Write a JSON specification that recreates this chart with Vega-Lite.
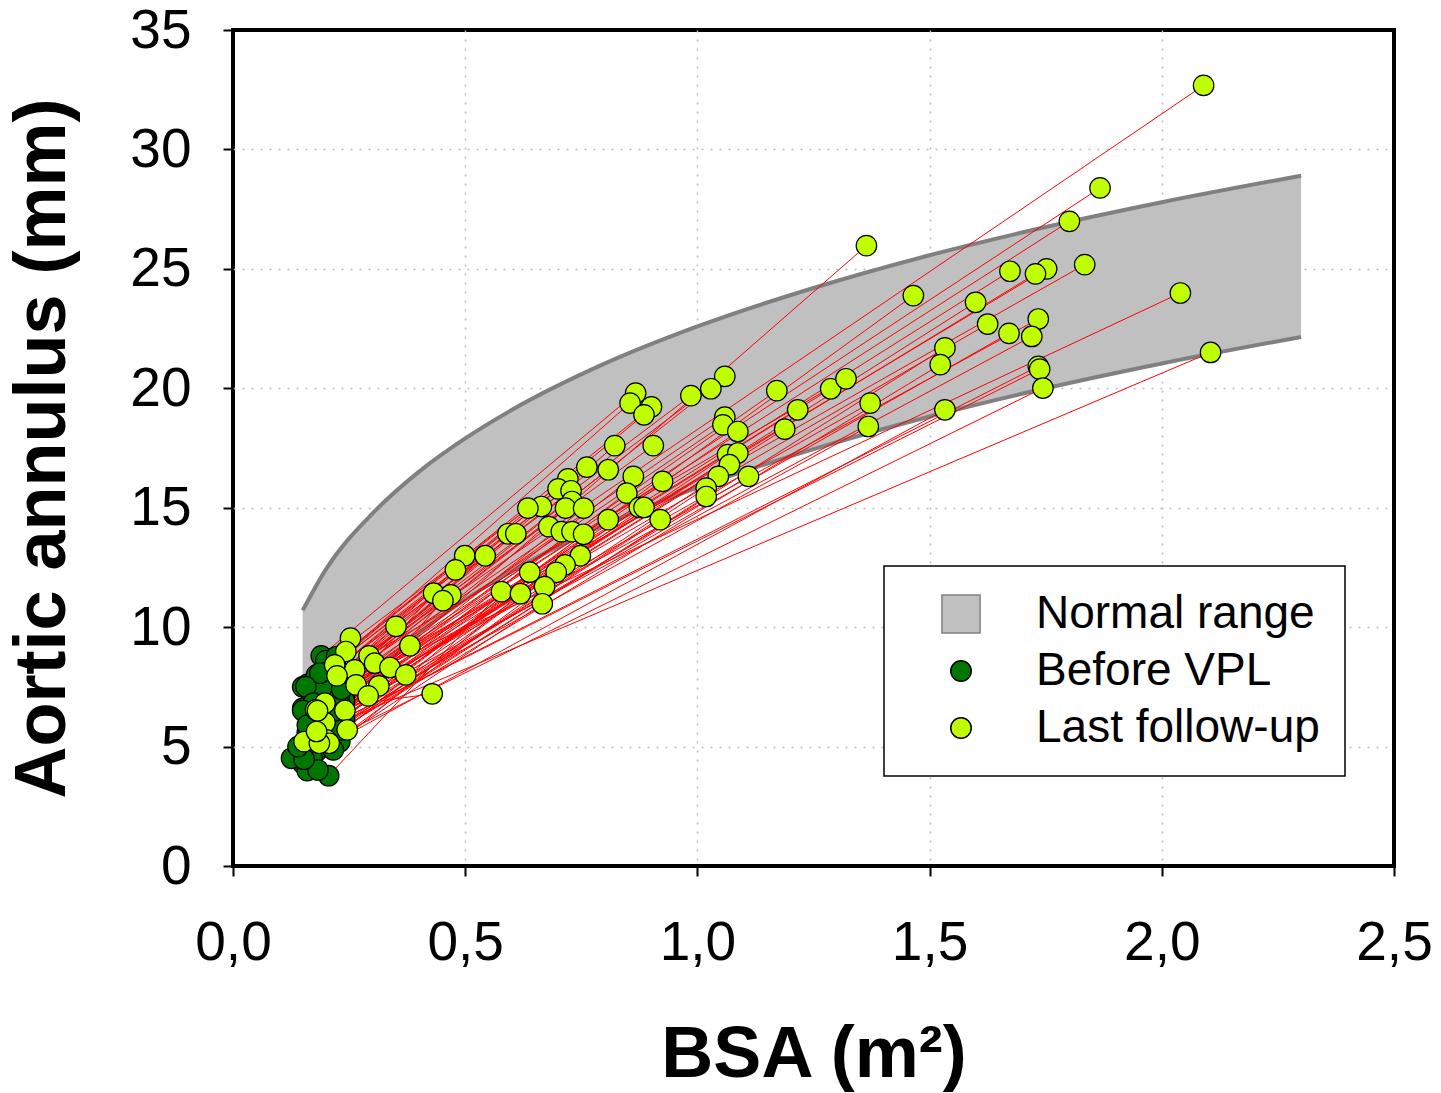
{
  "$schema": "https://vega.github.io/schema/vega-lite/v6.json",
  "width": 1161,
  "height": 836,
  "autosize": {"type": "none"},
  "padding": {"left": 233, "top": 30, "right": 47, "bottom": 227},
  "background": "white",
  "config": {
    "view": {"stroke": "black", "strokeWidth": 4},
    "font": "Liberation Sans",
    "axis": {
      "grid": true,
      "gridColor": "#BBBBBB",
      "gridDash": [2, 7],
      "gridWidth": 1.5,
      "domain": false,
      "ticks": true,
      "tickSize": 10,
      "tickColor": "black",
      "tickWidth": 2,
      "labelFont": "Liberation Sans",
      "labelFontSize": 55,
      "labelColor": "black",
      "labelFlush": false,
      "labelOverlap": false,
      "titleFont": "Liberation Sans",
      "titleFontSize": 72,
      "titleFontWeight": "bold",
      "titleColor": "black"
    },
    "legend": {
      "orient": "none",
      "legendX": 651,
      "legendY": 536,
      "padding": 25,
      "strokeColor": "black",
      "strokeWidth": 1.5,
      "fillColor": "white",
      "labelFont": "Liberation Sans",
      "labelFontSize": 46,
      "labelColor": "black",
      "labelLimit": 400,
      "symbolOffset": 29,
      "labelOffset": 52,
      "rowPadding": 11,
      "symbolSize": 420,
      "symbolStrokeWidth": 1.5
    }
  },
  "datasets": {
    "band": [
      {"bsa": 0.15, "upper": 10.7, "lower": 3.95},
      {"bsa": 0.2, "upper": 12.42, "lower": 5.67},
      {"bsa": 0.3, "upper": 14.75, "lower": 8.0},
      {"bsa": 0.4, "upper": 16.5, "lower": 9.75},
      {"bsa": 0.5, "upper": 17.9, "lower": 11.15},
      {"bsa": 0.6, "upper": 19.09, "lower": 12.34},
      {"bsa": 0.8, "upper": 21.03, "lower": 14.28},
      {"bsa": 1.0, "upper": 22.59, "lower": 15.84},
      {"bsa": 1.25, "upper": 24.2, "lower": 17.45},
      {"bsa": 1.5, "upper": 25.57, "lower": 18.82},
      {"bsa": 1.75, "upper": 26.75, "lower": 20.0},
      {"bsa": 2.0, "upper": 27.79, "lower": 21.04},
      {"bsa": 2.3, "upper": 28.9, "lower": 22.15}
    ],
    "patients": [
      {"id": 1, "b0": 0.20, "a0": 7.7, "b1": 2.090, "a1": 32.68},
      {"id": 2, "b0": 0.21, "a0": 7.2, "b1": 1.867, "a1": 28.39},
      {"id": 3, "b0": 0.19, "a0": 6.9, "b1": 1.801, "a1": 26.99},
      {"id": 4, "b0": 0.20, "a0": 6.2, "b1": 1.364, "a1": 25.97},
      {"id": 5, "b0": 0.22, "a0": 7.4, "b1": 1.834, "a1": 25.18},
      {"id": 6, "b0": 0.18, "a0": 6.6, "b1": 1.673, "a1": 24.90},
      {"id": 7, "b0": 0.21, "a0": 7.0, "b1": 1.752, "a1": 25.00},
      {"id": 8, "b0": 0.17, "a0": 6.3, "b1": 1.728, "a1": 24.79},
      {"id": 9, "b0": 0.19, "a0": 5.9, "b1": 1.465, "a1": 23.88},
      {"id": 10, "b0": 0.23, "a0": 7.5, "b1": 2.040, "a1": 23.99},
      {"id": 11, "b0": 0.18, "a0": 6.1, "b1": 1.599, "a1": 23.60},
      {"id": 12, "b0": 0.20, "a0": 6.7, "b1": 1.625, "a1": 22.69},
      {"id": 13, "b0": 0.22, "a0": 6.8, "b1": 1.734, "a1": 22.90},
      {"id": 14, "b0": 0.16, "a0": 5.6, "b1": 1.671, "a1": 22.30},
      {"id": 15, "b0": 0.21, "a0": 6.4, "b1": 1.720, "a1": 22.17},
      {"id": 16, "b0": 0.19, "a0": 5.3, "b1": 1.533, "a1": 21.69},
      {"id": 17, "b0": 0.24, "a0": 6.1, "b1": 2.105, "a1": 21.50},
      {"id": 18, "b0": 0.17, "a0": 5.0, "b1": 1.523, "a1": 20.99},
      {"id": 19, "b0": 0.22, "a0": 6.0, "b1": 1.734, "a1": 20.92},
      {"id": 20, "b0": 0.20, "a0": 5.8, "b1": 1.737, "a1": 20.80},
      {"id": 21, "b0": 0.23, "a0": 5.5, "b1": 1.744, "a1": 20.01},
      {"id": 22, "b0": 0.18, "a0": 4.8, "b1": 1.533, "a1": 19.10},
      {"id": 23, "b0": 0.19, "a0": 7.8, "b1": 1.059, "a1": 20.50},
      {"id": 24, "b0": 0.20, "a0": 7.3, "b1": 1.029, "a1": 19.98},
      {"id": 25, "b0": 0.16, "a0": 7.6, "b1": 0.986, "a1": 19.69},
      {"id": 26, "b0": 0.21, "a0": 6.9, "b1": 1.171, "a1": 19.90},
      {"id": 27, "b0": 0.22, "a0": 7.1, "b1": 1.287, "a1": 19.98},
      {"id": 28, "b0": 0.23, "a0": 8.1, "b1": 1.320, "a1": 20.40},
      {"id": 29, "b0": 0.18, "a0": 6.5, "b1": 1.216, "a1": 19.10},
      {"id": 30, "b0": 0.24, "a0": 7.0, "b1": 1.372, "a1": 19.38},
      {"id": 31, "b0": 0.20, "a0": 5.9, "b1": 1.368, "a1": 18.40},
      {"id": 32, "b0": 0.19, "a0": 6.2, "b1": 1.188, "a1": 18.29},
      {"id": 33, "b0": 0.21, "a0": 7.5, "b1": 1.059, "a1": 18.79},
      {"id": 34, "b0": 0.17, "a0": 6.8, "b1": 1.055, "a1": 18.47},
      {"id": 35, "b0": 0.22, "a0": 6.6, "b1": 1.087, "a1": 18.19},
      {"id": 36, "b0": 0.19, "a0": 8.8, "b1": 0.867, "a1": 19.80},
      {"id": 37, "b0": 0.22, "a0": 8.5, "b1": 0.855, "a1": 19.38},
      {"id": 38, "b0": 0.18, "a0": 8.0, "b1": 0.901, "a1": 19.22},
      {"id": 39, "b0": 0.20, "a0": 7.9, "b1": 0.885, "a1": 18.89},
      {"id": 40, "b0": 0.23, "a0": 7.7, "b1": 0.822, "a1": 17.60},
      {"id": 41, "b0": 0.17, "a0": 7.2, "b1": 0.905, "a1": 17.60},
      {"id": 42, "b0": 0.21, "a0": 8.3, "b1": 0.762, "a1": 16.70},
      {"id": 43, "b0": 0.19, "a0": 7.4, "b1": 0.808, "a1": 16.59},
      {"id": 44, "b0": 0.23, "a0": 6.4, "b1": 1.065, "a1": 17.22},
      {"id": 45, "b0": 0.18, "a0": 6.0, "b1": 1.087, "a1": 17.29},
      {"id": 46, "b0": 0.20, "a0": 6.3, "b1": 1.069, "a1": 16.80},
      {"id": 47, "b0": 0.22, "a0": 5.7, "b1": 1.045, "a1": 16.31},
      {"id": 48, "b0": 0.16, "a0": 5.4, "b1": 1.110, "a1": 16.31},
      {"id": 49, "b0": 0.21, "a0": 5.6, "b1": 1.019, "a1": 15.82},
      {"id": 50, "b0": 0.19, "a0": 5.2, "b1": 1.019, "a1": 15.47},
      {"id": 51, "b0": 0.24, "a0": 6.9, "b1": 0.862, "a1": 16.31},
      {"id": 52, "b0": 0.18, "a0": 6.6, "b1": 0.925, "a1": 16.10},
      {"id": 53, "b0": 0.20, "a0": 8.6, "b1": 0.721, "a1": 16.21},
      {"id": 54, "b0": 0.22, "a0": 8.2, "b1": 0.700, "a1": 15.79},
      {"id": 55, "b0": 0.17, "a0": 7.5, "b1": 0.728, "a1": 15.71},
      {"id": 56, "b0": 0.21, "a0": 7.3, "b1": 0.730, "a1": 15.26},
      {"id": 57, "b0": 0.19, "a0": 7.0, "b1": 0.716, "a1": 14.98},
      {"id": 58, "b0": 0.23, "a0": 6.8, "b1": 0.755, "a1": 14.98},
      {"id": 59, "b0": 0.20, "a0": 7.6, "b1": 0.664, "a1": 15.05},
      {"id": 60, "b0": 0.15, "a0": 7.5, "b1": 0.635, "a1": 14.98},
      {"id": 61, "b0": 0.22, "a0": 6.5, "b1": 0.848, "a1": 15.61},
      {"id": 62, "b0": 0.18, "a0": 5.8, "b1": 0.875, "a1": 15.01},
      {"id": 63, "b0": 0.21, "a0": 6.1, "b1": 0.885, "a1": 15.01},
      {"id": 64, "b0": 0.17, "a0": 5.1, "b1": 0.920, "a1": 14.50},
      {"id": 65, "b0": 0.24, "a0": 6.2, "b1": 0.808, "a1": 14.50},
      {"id": 66, "b0": 0.19, "a0": 6.7, "b1": 0.680, "a1": 14.21},
      {"id": 67, "b0": 0.16, "a0": 6.4, "b1": 0.707, "a1": 14.00},
      {"id": 68, "b0": 0.20, "a0": 6.0, "b1": 0.730, "a1": 14.00},
      {"id": 69, "b0": 0.22, "a0": 5.9, "b1": 0.755, "a1": 13.89},
      {"id": 70, "b0": 0.18, "a0": 7.1, "b1": 0.592, "a1": 13.91},
      {"id": 71, "b0": 0.23, "a0": 7.8, "b1": 0.609, "a1": 13.91},
      {"id": 72, "b0": 0.19, "a0": 8.0, "b1": 0.499, "a1": 12.99},
      {"id": 73, "b0": 0.21, "a0": 7.4, "b1": 0.543, "a1": 12.99},
      {"id": 74, "b0": 0.17, "a0": 7.0, "b1": 0.479, "a1": 12.40},
      {"id": 75, "b0": 0.20, "a0": 6.3, "b1": 0.432, "a1": 11.42},
      {"id": 76, "b0": 0.15, "a0": 6.6, "b1": 0.469, "a1": 11.35},
      {"id": 77, "b0": 0.22, "a0": 6.0, "b1": 0.452, "a1": 11.11},
      {"id": 78, "b0": 0.18, "a0": 5.5, "b1": 0.748, "a1": 12.99},
      {"id": 79, "b0": 0.21, "a0": 5.3, "b1": 0.715, "a1": 12.61},
      {"id": 80, "b0": 0.16, "a0": 4.9, "b1": 0.696, "a1": 12.29},
      {"id": 81, "b0": 0.20, "a0": 5.0, "b1": 0.639, "a1": 12.30},
      {"id": 82, "b0": 0.206, "a0": 3.78, "b1": 0.578, "a1": 11.49},
      {"id": 83, "b0": 0.23, "a0": 5.2, "b1": 0.619, "a1": 11.40},
      {"id": 84, "b0": 0.17, "a0": 4.5, "b1": 0.671, "a1": 11.70},
      {"id": 85, "b0": 0.15, "a0": 4.3, "b1": 0.666, "a1": 10.98},
      {"id": 86, "b0": 0.21, "a0": 7.6, "b1": 0.351, "a1": 10.03},
      {"id": 87, "b0": 0.19, "a0": 6.8, "b1": 0.381, "a1": 9.22},
      {"id": 88, "b0": 0.20, "a0": 6.6, "b1": 0.429, "a1": 7.21},
      {"id": 89, "b0": 0.223, "a0": 8.77, "b1": 0.253, "a1": 9.54},
      {"id": 90, "b0": 0.20, "a0": 8.1, "b1": 0.243, "a1": 8.98},
      {"id": 91, "b0": 0.23, "a0": 7.2, "b1": 0.293, "a1": 8.80},
      {"id": 92, "b0": 0.19, "a0": 6.5, "b1": 0.305, "a1": 8.49},
      {"id": 93, "b0": 0.21, "a0": 6.2, "b1": 0.338, "a1": 8.31},
      {"id": 94, "b0": 0.18, "a0": 5.7, "b1": 0.372, "a1": 8.00},
      {"id": 95, "b0": 0.191, "a0": 7.44, "b1": 0.262, "a1": 8.21},
      {"id": 96, "b0": 0.187, "a0": 8.07, "b1": 0.219, "a1": 8.42},
      {"id": 97, "b0": 0.157, "a0": 7.51, "b1": 0.224, "a1": 7.96},
      {"id": 98, "b0": 0.234, "a0": 7.40, "b1": 0.265, "a1": 7.58},
      {"id": 99, "b0": 0.22, "a0": 6.3, "b1": 0.314, "a1": 7.54},
      {"id": 100, "b0": 0.212, "a0": 5.49, "b1": 0.291, "a1": 7.12},
      {"id": 101, "b0": 0.173, "a0": 6.82, "b1": 0.198, "a1": 6.82},
      {"id": 102, "b0": 0.234, "a0": 5.70, "b1": 0.241, "a1": 6.51},
      {"id": 103, "b0": 0.150, "a0": 6.51, "b1": 0.178, "a1": 6.54},
      {"id": 104, "b0": 0.17, "a0": 5.2, "b1": 0.198, "a1": 6.00},
      {"id": 105, "b0": 0.216, "a0": 4.86, "b1": 0.246, "a1": 5.70},
      {"id": 106, "b0": 0.160, "a0": 3.99, "b1": 0.201, "a1": 5.28},
      {"id": 107, "b0": 0.183, "a0": 4.02, "b1": 0.207, "a1": 5.14},
      {"id": 108, "b0": 0.126, "a0": 4.51, "b1": 0.153, "a1": 5.21},
      {"id": 109, "b0": 0.153, "a0": 4.47, "b1": 0.186, "a1": 5.14},
      {"id": 110, "b0": 0.16, "a0": 5.9, "b1": 0.182, "a1": 6.50},
      {"id": 111, "b0": 0.140, "a0": 5.0, "b1": 0.180, "a1": 5.63}
    ]
  },
  "layer": [
    {
      "data": {"name": "band"},
      "mark": {"type": "area", "color": "#C0C0C0", "opacity": 1, "interpolate": "monotone"},
      "encoding": {
        "x": {
          "field": "bsa",
          "type": "quantitative",
          "scale": {"domain": [0, 2.5], "nice": false, "zero": false},
          "axis": {
            "values": [0, 0.5, 1, 1.5, 2, 2.5],
            "labelExpr": "replace(format(datum.value, '.1f'), '.', ',')",
            "labelPadding": 40,
            "title": "BSA (m²)",
            "titlePadding": 49,
            "gridOpacity": {"condition": {"test": "datum.value <= 0 || datum.value >= 2.5", "value": 0}, "value": 1}
          }
        },
        "y": {
          "field": "upper",
          "type": "quantitative",
          "scale": {"domain": [0, 35], "nice": false},
          "axis": {
            "values": [0, 5, 10, 15, 20, 25, 30, 35],
            "labelPadding": 32,
            "title": "Aortic annulus (mm)",
            "titlePadding": 50,
            "gridOpacity": {"condition": {"test": "datum.value <= 0 || datum.value >= 35", "value": 0}, "value": 1}
          }
        },
        "y2": {"field": "lower"}
      }
    },
    {
      "data": {"name": "band"},
      "mark": {"type": "line", "color": "#808080", "strokeWidth": 4, "interpolate": "monotone"},
      "encoding": {
        "x": {"field": "bsa", "type": "quantitative"},
        "y": {"field": "upper", "type": "quantitative"}
      }
    },
    {
      "data": {"name": "band"},
      "mark": {"type": "line", "color": "#808080", "strokeWidth": 4, "interpolate": "monotone"},
      "encoding": {
        "x": {"field": "bsa", "type": "quantitative"},
        "y": {"field": "lower", "type": "quantitative"}
      }
    },
    {
      "data": {"name": "patients"},
      "mark": {"type": "rule", "color": "#FF0000", "strokeWidth": 1},
      "encoding": {
        "x": {"field": "b0", "type": "quantitative"},
        "y": {"field": "a0", "type": "quantitative"},
        "x2": {"field": "b1"},
        "y2": {"field": "a1"}
      }
    },
    {
      "data": {"name": "patients"},
      "mark": {"type": "point", "filled": true, "opacity": 1, "strokeWidth": 1.2, "size": 420},
      "encoding": {
        "x": {"field": "b0", "type": "quantitative"},
        "y": {"field": "a0", "type": "quantitative"},
        "fill": {
          "datum": "Before VPL",
          "type": "nominal",
          "scale": {"domain": ["Normal range", "Before VPL", "Last follow-up"], "range": ["#C0C0C0", "#007700", "#C0FF00"]},
          "legend": {"title": null}
        },
        "stroke": {
          "datum": "Before VPL",
          "type": "nominal",
          "scale": {"domain": ["Normal range", "Before VPL", "Last follow-up"], "range": ["#808080", "#000000", "#000000"]},
          "legend": {"title": null}
        },
        "shape": {
          "datum": "Before VPL",
          "type": "nominal",
          "scale": {"domain": ["Normal range", "Before VPL", "Last follow-up"], "range": ["M-1.86,-1.86H1.86V1.86H-1.86Z", "circle", "circle"]},
          "legend": {"title": null}
        }
      }
    },
    {
      "data": {"name": "patients"},
      "mark": {"type": "point", "filled": true, "opacity": 1, "strokeWidth": 1.2, "size": 420},
      "encoding": {
        "x": {"field": "b1", "type": "quantitative"},
        "y": {"field": "a1", "type": "quantitative"},
        "fill": {"datum": "Last follow-up", "type": "nominal"},
        "stroke": {"datum": "Last follow-up", "type": "nominal"},
        "shape": {"datum": "Last follow-up", "type": "nominal"}
      }
    }
  ]
}
